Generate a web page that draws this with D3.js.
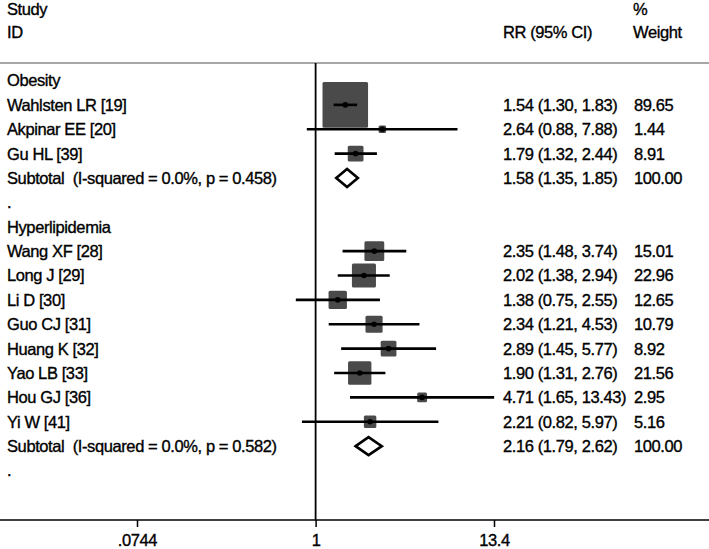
<!DOCTYPE html>
<html>
<head>
<meta charset="utf-8">
<script src="https://cdn.jsdelivr.net/npm/d3@7"></script>
<style>
  body { margin: 0; background: #fff; }
  svg text { font-family: "Liberation Sans", Arial, sans-serif; font-size: 16.5px; letter-spacing: -0.4px; fill: #000; stroke: #000; stroke-width: 0.35px; white-space: pre; }
</style>
</head>
<body>
<div id="canvas"></div>
<script>
// forest plot: RR with 95% CI, log scale

var groups = ['Obesity', 'Hyperlipidemia'];
var studies = ['Wahlsten LR [19]', 'Akpinar EE [20]', 'Gu HL [39]',
    'Wang XF [28]', 'Long J [29]', 'Li D [30]', 'Guo CJ [31]', 'Huang K [32]',
    'Yao LB [33]', 'Hou GJ [36]', 'Yi W [41]'];
var studyGroup = [0, 0, 0, 1, 1, 1, 1, 1, 1, 1, 1];
var rr     = [1.54, 2.64, 1.79, 2.35, 2.02, 1.38, 2.34, 2.89, 1.90, 4.71, 2.21];
var lower  = [1.30, 0.88, 1.32, 1.48, 1.38, 0.75, 1.21, 1.45, 1.31, 1.65, 0.82];
var upper  = [1.83, 7.88, 2.44, 3.74, 2.94, 2.55, 4.53, 5.77, 2.76, 13.43, 5.97];
var weight = [89.65, 1.44, 8.91, 15.01, 22.96, 12.65, 10.79, 8.92, 21.56, 2.95, 5.16];

var subRR = [1.58, 2.16];
var subLower = [1.35, 1.79];
var subUpper = [1.85, 2.62];
var subWeight = [100, 100];
var subHet = ['I-squared = 0.0%, p = 0.458', 'I-squared = 0.0%, p = 0.582'];

var tickValues = [0.0744, 1, 13.4];
var tickLabels = ['.0744', '1', '13.4'];

var W = 709, H = 549;
var colText = 7, colCI = 503, colW = 634;
var axisY = 520, topLine = 63;

var svg = d3.select('#canvas').append('svg')
    .attr('width', W)
    .attr('height', H);

// build the row list: header, studies, subtotal, blank '.'
var rows = [];
groups.forEach(function(g, gi){
    rows.push({type:'group', label:g});
    studies.forEach(function(s, i){
        if (studyGroup[i] !== gi) return;
        rows.push({type:'study', label:s, rr:rr[i], lo:lower[i], hi:upper[i], w:weight[i]});
    });
    rows.push({type:'sub', label:'Subtotal  (' + subHet[gi] + ')', rr:subRR[gi], lo:subLower[gi], hi:subUpper[gi], w:subWeight[gi]});
    rows.push({type:'blank', label:'.'});
});
rows.forEach(function(r, i){ r.i = i; });

var x = d3.scaleLog().domain([0.0744, 13.4]).range([137, 494]);
var y = d3.scaleLinear().domain([0, rows.length - 1]).range([80.5, 470.5]);
var box = d3.scaleSqrt().domain([0, 100]).range([2, 48]);
var f2 = d3.format('.2f');

// headers
svg.append('text').attr('x', colText).attr('y', 15).text('Study');
svg.append('text').attr('x', colText).attr('y', 38).text('ID');
svg.append('text').attr('x', colCI).attr('y', 38).text('RR (95% CI)');
svg.append('text').attr('x', colW - 1).attr('y', 15).text('%');
svg.append('text').attr('x', colW - 1).attr('y', 38).text('Weight');

// frame lines
svg.append('line')
    .attr('x1', 0).attr('x2', W)
    .attr('y1', topLine).attr('y2', topLine)
    .style('stroke', '#8a8a8a').style('stroke-width', 1.5);

// bottom axis
var axis = d3.axisBottom(x)
    .tickValues(tickValues)
    .tickFormat(function(d, i){ return tickLabels[i]; })
    .tickSize(7)
    .tickPadding(7);
var gx = svg.append('g')
    .attr('class', 'axis')
    .attr('transform', 'translate(0,' + axisY + ')')
    .call(axis);
gx.select('.domain').remove();
gx.selectAll('.tick line').style('stroke', '#000').style('stroke-width', 1.5);
gx.selectAll('.tick text')
    .style('font-family', '"Liberation Sans", Arial, sans-serif')
    .style('font-size', '16.5px');
svg.append('line')
    .attr('x1', 0).attr('x2', W)
    .attr('y1', axisY).attr('y2', axisY)
    .style('stroke', '#000').style('stroke-width', 1.5);

// null line at 1
svg.append('line')
    .attr('x1', x(1)).attr('x2', x(1))
    .attr('y1', topLine).attr('y2', axisY)
    .style('stroke', '#000').style('stroke-width', 1.8);

// row labels
var rowG = svg.selectAll('.row')
    .data(rows)
    .enter()
    .append('g')
    .attr('class', 'row')
    .attr('transform', function(d){ return 'translate(0,' + y(d.i) + ')'; });

rowG.append('text')
    .attr('x', colText)
    .attr('dy', '0.36em')
    .text(function(d){ return d.label; });

var withCI = rowG.filter(function(d){ return d.type === 'study' || d.type === 'sub'; });
withCI.append('text')
    .attr('x', colCI)
    .attr('dy', '0.36em')
    .text(function(d){ return f2(d.rr) + ' (' + f2(d.lo) + ', ' + f2(d.hi) + ')'; });
withCI.append('text')
    .attr('x', colW)
    .attr('dy', '0.36em')
    .text(function(d){ return f2(d.w); });

// study boxes, CI lines, points
var st = rowG.filter(function(d){ return d.type === 'study'; });
st.append('rect')
    .attr('x', function(d){ return x(d.rr) - box(d.w) / 2; })
    .attr('y', function(d){ return -box(d.w) / 2; })
    .attr('width', function(d){ return box(d.w); })
    .attr('height', function(d){ return box(d.w); })
    .attr('rx', 1.5)
    .style('fill', '#4a4a4a');
st.append('line')
    .attr('x1', function(d){ return x(d.lo); })
    .attr('x2', function(d){ return x(d.hi); })
    .attr('y1', 0).attr('y2', 0)
    .style('stroke', '#000').style('stroke-width', 2.6);
st.append('circle')
    .attr('cx', function(d){ return x(d.rr); })
    .attr('cy', 0)
    .attr('r', 2.8)
    .style('fill', '#000');

// subtotal diamonds
rowG.filter(function(d){ return d.type === 'sub'; })
    .append('path')
    .attr('d', function(d){
        var h = 9;
        return 'M' + x(d.lo) + ',0L' + x(d.rr) + ',' + (-h) + 'L' + x(d.hi) + ',0L' + x(d.rr) + ',' + h + 'Z';
    })
    .style('fill', '#fff')
    .style('stroke', '#000')
    .style('stroke-width', 2.6)
    .style('stroke-linejoin', 'miter');
</script>
</body>
</html>
